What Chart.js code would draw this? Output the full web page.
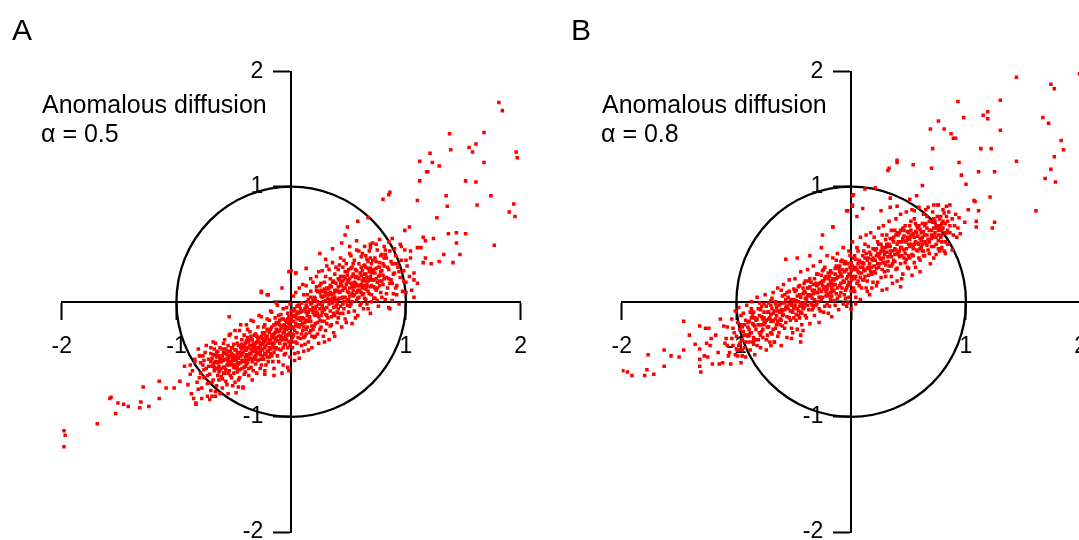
<!DOCTYPE html>
<html>
<head>
<meta charset="utf-8">
<script src="https://cdn.jsdelivr.net/npm/chart.js@4.4.1/dist/chart.umd.min.js"></script>
<style>
  html, body { margin: 0; padding: 0; background: #fff; overflow: hidden; }
  body { width: 1079px; height: 540px; position: relative; font-family: 'Liberation Sans', Arial, sans-serif; }
  canvas { position: absolute; top: 0; }
  .lbl { position: absolute; color: #000; line-height: 1; white-space: nowrap; }
  .panel { font-size: 30px; }
  .note { font-size: 25px; }
</style>
</head>
<body>
<canvas id="chartA" width="560" height="600" style="left:0px"></canvas>
<canvas id="chartB" width="560" height="600" style="left:560px"></canvas>
<div class="lbl panel" style="left:12px; top:15px">A</div>
<div class="lbl panel" style="left:571px; top:15px">B</div>
<div class="lbl note" style="left:42px; top:92px">Anomalous diffusion</div>
<div class="lbl note" style="left:41px; top:120.5px">α = 0.5</div>
<div class="lbl note" style="left:602px; top:92px">Anomalous diffusion</div>
<div class="lbl note" style="left:601px; top:120.5px">α = 0.8</div>
<script>
// axis range and the reference circle (radius in data units)
const axisMin = -2;
const axisMax = 2;
const circleRadius = 1;

// Panel A (alpha = 0.5): positions, in hundredths
const coreA = [
  [-86,-60],[-84,-52],[-82,-70],[-80,-47],[-79,-62],[-78,-75],[-77,-55],[-76,-66],[-75,-44],[-74,-58],
  [-73,-71],[-72,-50],[-71,-63],[-70,-40],[-70,-77],[-69,-56],[-68,-46],[-68,-68],[-67,-60],[-66,-52],
  [-66,-36],[-65,-73],[-64,-64],[-64,-43],[-63,-56],[-62,-49],[-62,-80],
  [-61,-58],[-60,-41],[-60,-67],[-59,-51],[-58,-33],[-58,-62],[-57,-45],[-56,-55],[-56,-72],[-55,-38],
  [-55,-49],[-54,-60],[-53,-43],[-53,-28],[-52,-52],[-52,-66],[-51,-46],[-50,-37],[-50,-57],[-49,-42],
  [-49,-70],[-48,-50],[-48,-31],[-47,-61],[-47,-45],[-46,-38],[-46,-54],[-45,-25],[-45,-66],[-44,-47],
  [-44,-40],[-43,-58],[-43,-33],[-42,-51],[-42,-44],[-41,-63],[-41,-29],[-40,-48],[-40,-36],[-40,-56],
  [-39,-42],[-39,-20],[-38,-53],[-38,-31],[-37,-46],[-37,-64],[-36,-38],[-36,-26],[-35,-49],[-35,-57],
  [-34,-33],[-34,-43],[-33,-17],[-33,-60],[-32,-39],[-32,-48],[-31,-28],[-31,-54],[-30,-35],[-30,-44],
  [-29,-22],[-29,-51],[-28,-40],[-28,-31],[-27,-58],[-27,-46],[-26,-36],[-26,-13],[-25,-42],[-25,-27],
  [-24,-50],[-24,-34],[-23,-45],[-23,-20],[-22,-38],[-22,-55],[-21,-30],[-21,-43],[-20,-25],[-20,-36],
  [-19,-48],[-19,-16],[-18,-33],[-18,-41],[-17,-22],[-17,-9],[-16,-38],[-16,-52],[-15,-28],[-15,-44],
  [-14,-14],[-14,-33],[-13,-24],[-13,-40],[-12,-47],[-12,-3],[-11,-30],[-11,-19],[-10,-36],[-10,-25],
  [-9,-42],[-9,-11],[-8,-31],[-8,-21],[-7,-55],[-7,-6],[-6,-27],[-6,-37],[-5,-16],[-5,-45],
  [-4,-24],[-4,-33],[-3,-10],[-3,-40],[-2,-19],[-2,-28],[-1,-48],[-1,-2],[0,-34],[0,-14],
  [1,-23],[1,-40],[2,5],[2,-29],[3,-13],[3,-51],[4,-35],[4,-19],[5,-4],[5,-27],
  [6,-44],[6,-10],[7,-22],[7,12],[8,-32],[8,-16],[9,-1],[9,-38],[10,-25],[10,-8],
  [11,6],[11,-43],[12,-18],[12,-30],[13,-3],[13,14],[14,-22],[14,-12],[15,-35],[15,2],
  [16,-27],[16,-7],[17,9],[17,-17],[18,-40],[18,-1],[19,-24],[19,17],[20,-11],[20,-31],
  [21,3],[21,-19],[22,-4],[22,22],[23,-28],[23,9],[24,-13],[24,-36],[25,14],[25,-2],
  [26,-22],[26,5],[27,27],[27,-9],[28,-30],[28,0],[29,-17],[29,17],[30,8],[30,-25],
  [31,-5],[31,31],[32,-14],[32,11],[33,-33],[33,2],[34,20],[34,-8],[35,-20],[35,13],
  [36,-1],[36,34],[37,-27],[37,7],[38,-12],[38,24],[39,16],[39,-4],[40,-18],[40,10],
  [41,28],[41,2],[42,-10],[42,19],[43,38],[43,9],[44,-22],[44,14],[45,4],[45,30],
  [46,-6],[46,22],[47,12],[47,-15],[48,33],[48,0],[49,17],[49,26],[50,-9],[50,8],
  [51,42],[51,20],[52,-2],[52,29],[53,13],[53,-19],[54,24],[54,5],[55,36],[55,-8],
  [56,16],[56,28],[57,1],[57,45],[58,21],[58,-12],[59,10],[59,33],[60,25],[60,-3],
  [61,15],[61,39],[62,6],[62,27],[63,-6],[63,20],[64,48],[64,32],[65,11],[65,24],
  [66,-2],[66,37],[67,18],[67,29],[68,7],[68,44],[69,22],[69,-10],[70,33],[70,14],
  [71,26],[71,51],[72,3],[72,19],[73,38],[74,10],[74,29],[75,45],[75,17],[76,-4],
  [77,23],[77,34],[78,8],[79,41],[79,27],[80,15],
  [81,31],[81,48],[82,2],[83,21],[83,38],[84,12],[85,28],[86,44],[86,-6],[87,19],
  [88,33],[89,7],[90,25],[91,40],[92,14],[93,30],[94,-2],[95,21],[96,36],[97,9],
  [98,27],[99,45],[100,17],[101,31],[103,22],[104,38],
  [-65,-58],[-63,-47],[-61,-65],[-59,-44],[-57,-59],[-55,-52],[-53,-64],[-51,-40],[-49,-55],[-47,-48],
  [-45,-59],[-43,-37],[-41,-52],[-39,-46],[-37,-35],[-35,-41],[-33,-50],[-31,-36],[-29,-45],[-27,-38],
  [-25,-32],[-23,-40],[-21,-48],[-19,-27],[-17,-36],[-15,-20],[-13,-31],[-11,-41],[-9,-23],[-7,-33],
  [-5,-30],[-3,-22],[-1,-27],[1,-12],[3,-25],[5,-15],[7,-3],[9,-20],[11,-31],[13,-9],
  [15,-17],[17,-2],[19,-9],[21,-12],[23,0],[25,-16],[27,4],[29,-7],[31,12],[33,-2],
  [35,6],[37,18],[39,1],[41,13],[43,-4],[45,18],[47,4],[49,9],[51,12],[53,22],
  [55,6],[57,15],[59,20],[61,8],[63,14],[65,30],[67,9],[69,13],[71,19],[73,25],
  [75,12],[77,30],[79,18],
  [-70,-52],[-58,-50],[-54,-47],[-50,-62],[-46,-44],[-44,-53],[-38,-40],[-34,-52],[-30,-41],[-26,-30],
  [-22,-33],[-18,-45],[-14,-27],[-10,-16],[-6,-20],[-2,-35],[2,-17],[6,-31],[10,-14],[14,-5],
  [18,-21],[22,10],[26,-12],[30,1],[34,8],[38,4],[42,3],[46,12],[50,28],[54,15],
  [58,3],[62,18],[66,21],[70,6],[74,20],
  [-90,-72],[-88,-55],[-87,-80],[-81,-41],[-80,-66],[-79,-53],[-78,-84],[-77,-47],[-76,-59],
  [-74,-38],[-73,-64],[-72,-56],[-71,-85],[-70,-45],[-69,-70],[-68,-35],[-67,-53],[-66,-78],[-65,-48],
  [-64,-58],[-63,-68],[-62,-40],[-61,-52],[-60,-75],
  [-59,-36],[-58,-57],[-57,-69],[-56,-46],[-55,-80],[-54,-29],[-53,-52],[-52,-40],[-51,-73],[-50,-48],
  [-49,-25],[-48,-58],[-47,-36],[-46,-68],[-45,-44],[-44,-20],[-43,-51],[-42,-74],[-41,-39],[-40,-61],
  [-39,-51],[-38,-24],[-37,-58],[-36,-45],[-35,-16],[-34,-68],[-33,-40],[-32,-29],[-31,-47],[-30,-62],
  [-29,-33],[-28,-12],[-27,-43],[-26,-55],[-25,-37],[-24,-22],[-23,-60],[-22,-46],[-21,-15],[-20,-52],
  [-19,-36],[-18,-8],[-17,-47],[-16,-29],[-15,-58],[-14,-41],[-13,-1],[-12,-34],[-11,-52],[-10,-20],
  [-9,-30],[-8,-62],[-7,-15],[-6,-46],[-5,-37],[-4,-5],[-3,-57],[-2,-13],[-1,-38],[0,-22],
  [1,-31],[2,-8],[3,-45],[4,8],[5,-36],[6,-20],[7,-49],[8,-6],[9,-28],[10,15],
  [11,-15],[12,-37],[13,-24],[14,6],[15,-42],[16,-14],[17,20],[18,-30],[19,-5],[20,-21],
  [21,-30],[22,13],[23,-10],[24,26],[25,-24],[26,16],[27,-17],[28,9],[29,-35],[30,22],
  [31,-12],[32,3],[33,28],[34,-21],[35,0],[36,17],[37,-5],[38,-30],[39,30],[40,-9],
  [41,-14],[42,32],[43,22],[44,3],[45,-10],[46,36],[47,26],[48,-18],[49,2],[50,19],
  [51,-4],[52,40],[53,7],[54,33],[55,17],[56,-14],[57,27],[58,10],[59,44],[60,14],
  [61,-1],[62,42],[63,31],[64,3],[65,40],[66,15],[67,-6],[68,26],[69,47],[70,0],
  [71,36],[72,28],[73,12],[74,50],[75,1],[76,30],[77,14],[78,40],[79,4],[80,33],
  [81,20],[82,41],[83,7],[84,30],[85,52],[86,16],[87,35],[88,1],[89,24],[90,46],
  [91,12],[92,33],[94,26],[96,48],[98,18],[100,36],
  [-69,-49],[-67,-57],[-65,-44],[-63,-61],[-61,-50],[-59,-57],[-57,-41],[-55,-62],[-53,-48],[-51,-55],
  [-49,-47],[-47,-53],[-45,-38],[-43,-46],[-41,-57],[-39,-34],[-37,-50],[-35,-45],[-33,-36],[-31,-42],
  [-29,-40],[-27,-31],[-25,-47],[-23,-35],[-21,-24],[-19,-40],[-17,-30],[-15,-36],[-13,-18],[-11,-26],
  [-9,-33],[-7,-27],[-5,-22],[-3,-29],[-1,-17],[1,-28],[3,-6],[5,-21],[7,-14],[9,-8],
  [11,-22],[13,-16],[15,-9],[17,-25],[19,2],[21,-6],[23,-18],[25,8],[27,-3],[29,5],
  [31,-19],[33,12],[35,-13],[37,1],[39,9],[41,-6],[43,16],[45,10],[47,20],[49,-3],
  [51,5],[53,30],[55,13],[57,22],[59,4],[61,23],[63,7],[65,18],[67,35],[69,29],
  [-68,-55],[-66,-46],[-64,-53],[-62,-59],[-60,-47],[-58,-44],[-56,-50],[-54,-55],[-52,-45],[-50,-51],
  [-48,-42],[-46,-49],[-44,-45],[-42,-38],[-40,-42],[-38,-47],[-36,-33],[-34,-38],[-32,-43],[-30,-30],
  [-28,-35],[-26,-41],[-24,-28],[-22,-30],[-20,-43],[-18,-24],[-16,-31],[-14,-20],[-12,-25],[-10,-30],
  [-8,-15],[-6,-24],[-4,-18],[-2,-23],[0,-8],[2,-22],[4,-12],[6,-3],[8,-9],[10,-19],
  [12,-6],[14,0],[16,-13],[18,-7],[20,4],[22,-9],[24,-2],[26,10],[28,-6],[30,-11],
  [32,6],[34,14],[36,3],[38,10],[40,-2],[42,8],[44,22],[46,0],[48,15],[50,2],
  [52,16],[54,10],[56,21],[58,14],[60,9],[62,12],[64,24],[66,13],[68,19],[70,25],
  [72,13],[74,35],[76,22],[78,26],[80,23],
  [-67,-41],[-63,-52],[-59,-62],[-55,-43],[-51,-50],[-47,-57],[-43,-41],[-39,-54],[-35,-30],[-31,-50],
  [-27,-50],[-23,-27],[-19,-33],[-15,-40],[-11,-12],[-7,-40],[-3,-15],[1,-35],[5,-9],[9,-14],
  [13,-28],[17,4],[21,1],[25,-6],[29,11],[33,7],[37,-10],[41,20],[45,-2],[49,23],
  [53,0],[57,8],[61,30],[65,2],[69,38],[73,3],[77,18],[81,38],[85,20],[89,33]
];
const tailA = [
  [181,173],[184,166],[138,146],[168,147],[139,132],[155,134],[158,130],[161,137],[121,129],[112,122],
  [123,121],[129,118],[118,113],[119,113],[196,130],[197,125],[168,121],[152,105],[161,104],[112,105],
  [174,92],[135,92],[194,85],[190,78],[195,74],[162,84],[136,83],[110,88],[86,95],[85,93],
  [80,89],[127,73],[177,49],[152,59],[144,60],[137,59],[124,55],[144,51],[115,56],[117,53],
  [113,47],[110,47],[103,65],[99,62],[95,50],[133,41],[147,41],[141,34],[129,35],[122,33],
  [117,38],[115,34],[104,44],[107,25],[110,16],[107,19],[105,10],[107,4],[58,70],[49,65],
  [67,73],[47,58],[44,51],[57,53],[69,50],[77,54],[88,55],[82,45],[36,46],[25,42],
  [30,37],[51,48],[13,29],[4,25],[0,27],[-26,8],[-20,6],[88,16],[92,6],[85,-5],[100,8],
  [-198,-112],[-197,-116],[-198,-126],[-169,-106],[-158,-84],[-157,-83],[-153,-97],[-151,-88],[-146,-89],[-142,-91],
  [-132,-92],[-131,-87],[-124,-91],[-129,-74],[-115,-84],[-115,-69],[-109,-75],[-102,-75],[-97,-69],[-93,-56],
  [-88,-63],[-84,-50],[-83,-88],[-83,-89],[-85,-84],[-81,-76],[-76,-51],[-73,-82],[-69,-82],[-66,-82],
  [-54,-13],[-48,-79],[-46,-74],[-42,-75],[-26,9],[-21,6],[-15,-64],[-2,-60],[-23,-63],[-8,12],
  [-2,26],[4,25]
];

// Panel B (alpha = 0.8)
const coreB = [
  [-100,-30],[-99,-18],[-98,-38],[-97,-24],[-96,-12],[-95,-33],[-94,-26],[-93,-40],[-92,-16],[-91,-29],
  [-90,-22],[-89,-35],[-88,-9],[-87,-27],[-86,-19],[-85,-31],[-84,-14],[-83,-24],[-82,-38],[-81,-6],[-80,-20],
  [-79,-29],[-78,-13],[-77,-24],[-76,-2],[-75,-18],[-74,-33],[-73,-9],[-72,-22],[-71,-14],[-70,-27],
  [-69,3],[-68,-17],[-67,-8],[-66,-23],[-65,-12],[-64,-30],[-63,-3],[-62,-15],[-61,-7],[-60,-21],[-60,5],
  [-59,-11],[-58,-1],[-57,-18],[-56,8],[-55,-6],[-54,-14],[-53,2],[-52,-23],[-51,-9],[-50,11],
  [-49,-3],[-48,-16],[-47,5],[-46,-8],[-45,14],[-44,-1],[-43,-20],[-42,7],[-41,-5],[-40,-12],[-40,18],
  [-39,1],[-38,12],[-37,-7],[-36,20],[-35,5],[-34,-3],[-33,15],[-32,-12],[-31,8],[-30,24],
  [-29,0],[-28,11],[-27,-8],[-26,17],[-25,4],[-24,28],[-23,-4],[-22,13],[-21,7],[-20,-10],[-20,20],
  [-19,14],[-18,2],[-17,25],[-16,9],[-15,19],[-14,-3],[-13,31],[-12,12],[-11,22],[-10,5],
  [-9,16],[-8,36],[-7,-2],[-6,26],[-5,10],[-4,20],[-3,33],[-2,4],[-1,15],[0,27],[0,-6],
  [1,21],[2,38],[3,9],[4,30],[5,16],[6,44],[7,25],[8,2],[9,34],[10,19],
  [11,28],[12,50],[13,12],[14,36],[15,23],[16,6],[17,41],[18,30],[19,17],[20,46],[20,26],
  [21,36],[22,14],[23,52],[24,30],[25,42],[26,21],[27,58],[28,34],[29,26],[30,47],
  [31,11],[32,39],[33,31],[34,55],[35,22],[36,44],[37,36],[38,62],[39,28],[40,50],[40,18],
  [41,41],[42,60],[43,33],[44,52],[45,24],[46,45],[47,66],[48,37],[49,56],[50,29],
  [51,48],[52,70],[53,41],[54,59],[55,34],[56,52],[57,45],[58,64],[59,38],[60,55],[60,26],
  [61,47],[62,68],[63,40],[64,58],[65,51],[66,74],[67,45],[68,62],[69,33],[70,55],
  [71,69],[72,48],[73,60],[74,41],[75,66],[76,53],[77,72],[78,46],[79,58],[80,64],
  [82,52],[84,70],[86,60],[88,45],[90,66],[92,56],[94,73],
  [-95,-22],[-90,-30],[-85,-20],[-80,-27],[-76,-14],[-72,-9],[-68,-24],[-64,-8],[-60,-12],[-56,-4],
  [-52,-8],[-48,1],[-44,-9],[-40,-2],[-36,6],[-32,2],[-28,16],[-24,11],[-20,5],[-16,20],
  [-12,3],[-8,22],[-4,12],[0,19],[4,22],[8,30],[12,27],[16,33],[20,36],[24,40],
  [28,44],[32,48],[36,33],[40,42],[44,47],[48,53],[52,50],[56,61],[60,46],[64,66],
  [68,52],[72,58],[76,62],
  [-93,-29],[-87,-14],[-83,-33],[-78,-20],[-74,-16],[-70,-11],[-66,-15],[-62,-20],[-58,-7],[-54,-2],
  [-50,-14],[-46,0],[-42,-6],[-38,5],[-34,10],[-30,-2],[-26,9],[-22,22],[-18,8],[-14,15],
  [-10,26],[-6,17],[-2,24],[2,12],[6,33],[10,40],[14,18],[18,24],[22,29],[26,37],
  [30,32],[34,41],[38,46],[42,39],[46,57],[50,40],[54,46],[58,51],[62,56],[66,49],
  [70,62],[74,50],[78,66],
  [-110,-36],[-108,-22],[-106,-44],[-104,-15],[-103,-38],[-102,-27],[-101,-8],[-99,-47],[-98,-5],[-97,-36],
  [-96,-20],[-95,-42],[-94,-10],[-92,-48],[-91,-3],
  [-89,-17],[-88,-42],[-87,0],[-86,-35],[-85,-9],[-84,-46],[-83,-16],[-82,4],[-81,-33],[-80,-12],
  [-79,-40],[-78,-4],[-77,-31],[-76,-18],[-75,6],[-74,-42],[-73,-22],[-72,-1],[-71,-35],[-70,-17],
  [-69,-28],[-68,8],[-67,-35],[-66,-2],[-65,-20],[-64,12],[-63,-27],[-62,-9],[-61,-38],[-60,-1],
  [-59,15],[-58,-23],[-57,-5],[-56,-31],[-55,4],[-54,19],[-53,-16],[-52,-3],[-51,-27],[-50,2],
  [-49,20],[-48,-11],[-47,-24],[-46,13],[-45,-4],[-44,26],[-43,-10],[-42,-25],[-41,16],[-40,3],
  [-39,-14],[-38,28],[-37,6],[-36,-19],[-35,17],[-34,-7],[-33,31],[-32,10],[-31,-3],[-30,14],
  [-29,24],[-28,-6],[-27,35],[-26,2],[-25,18],[-24,-9],[-23,30],[-22,5],[-21,40],[-20,15],
  [-19,-4],[-18,27],[-17,11],[-16,38],[-15,1],[-14,24],[-13,7],[-12,42],[-11,-7],[-10,31],
  [-9,8],[-8,28],[-7,47],[-6,6],[-5,35],[-4,-4],[-3,22],[-2,44],[-1,30],[0,9],
  [1,52],[2,28],[3,40],[4,4],[5,47],[6,18],[7,36],[8,56],[9,12],[10,30],
  [11,44],[12,22],[13,58],[14,9],[15,48],[16,29],[17,60],[18,12],[19,38],[20,56],
  [21,25],[22,46],[23,17],[24,64],[25,33],[26,50],[27,10],[28,66],[29,41],[30,22],
  [31,58],[32,27],[33,70],[34,44],[35,62],[36,16],[37,52],[38,35],[39,72],[40,29],
  [41,58],[42,44],[43,76],[44,20],[45,64],[46,38],[47,52],[48,78],[49,30],[50,60],
  [51,38],[52,62],[53,80],[54,48],[55,72],[56,30],[57,66],[58,44],[59,82],[60,36],
  [61,60],[62,50],[63,76],[64,40],[65,68],[66,58],[67,82],[68,42],[69,70],[70,48],
  [71,78],[72,38],[73,70],[74,56],[75,84],[76,46],[77,64],[78,74],[79,52],[80,80],
  [81,44],[82,68],[83,60],[84,50],[85,78],[86,66],[88,72],[89,58],[91,76],[93,64],
  [-49,0],[-47,-6],[-45,6],[-43,-3],[-41,9],[-39,3],[-37,12],[-35,-1],[-33,7],[-31,16],
  [-29,8],[-27,4],[-25,14],[-23,20],[-21,11],[-19,22],[-17,16],[-15,10],[-13,20],[-11,29],
  [-9,24],[-7,18],[-5,27],[-3,14],[-1,23],[1,31],[3,20],[5,28],[7,35],[9,25],
  [11,33],[13,42],[15,30],[17,26],[19,36],[21,45],[23,33],[25,38],[27,47],[29,34],
  [31,43],[33,50],[35,39],[37,56],[39,45],[41,52],[43,47],[45,55],[47,42],[49,61],
  [51,54],[53,58],[55,50],[57,60],[59,66],
  [-90,-18],[-88,-27],[-86,-12],[-84,-21],[-82,-15],[-80,-6],[-78,-26],[-76,-9],[-74,-4],[-72,-15],
  [-70,-3],[-68,-10],[-66,0],[-64,-17],[-62,-2],[-60,-8],[-58,6],[-56,-13],[-54,9],[-52,-2],
  [-50,-6],[-48,10],[-46,-12],[-44,4],[-42,12],[-40,8],[-38,-3],[-36,13],[-34,3],[-32,20],
  [-30,8],[-28,4],[-26,23],[-24,18],[-22,9],[-20,25],[-18,18],[-16,14],[-14,29],[-12,21],
  [-10,14],[-8,12],[-6,33],[-4,28],[-2,17],[0,34],[2,22],[4,37],[6,26],[8,21],
  [10,34],[12,38],[14,29],[16,43],[18,37],[20,31],[22,40],[24,50],[26,44],[28,38],
  [30,54],[32,35],[34,48],[36,54],[38,41],[40,60],[42,52],[44,40],[46,62],[48,46],
  [50,50],[52,57],[54,40],[56,68],[58,57],[60,63],[62,44],[64,52],[66,64],[68,70],
  [70,58],[72,64],[74,66],[76,58],[78,56],[80,70],[82,60],[84,62],
  [-89,-24],[-85,-37],[-81,-20],[-77,-15],[-73,-29],[-69,-16],[-65,-5],[-61,-16],[-57,2],[-53,-8],
  [-49,9],[-45,-14],[-41,-1],[-37,18],[-33,-5],[-29,15],[-25,27],[-21,-2],[-17,5],[-13,36],
  [-9,35],[-5,3],[-1,40],[3,29],[7,14],[11,19],[15,38],[19,46],[23,42],[27,28],
  [31,50],[35,31],[39,58],[43,62],[47,34],[51,66],[55,56],[59,50],[63,61],[67,54],
  [71,56],[75,74],[79,68],[83,74]
];
const tailB = [
  [-199,-60],[-195,-61],[-191,-64],[-180,-64],[-178,-59],[-172,-63],[-177,-46],[-163,-42],[-163,-56],[-157,-47],
  [-150,-48],[-146,-42],[-146,-17],[-141,-29],[-136,-37],[-132,-21],[-132,-50],[-132,-56],[-131,-61],[-132,-41],
  [-127,-23],[-124,-23],[-128,-47],[-125,-48],[-126,-36],[-122,-32],[-123,-38],[-121,-54],[-116,-44],[-118,-29],
  [-114,-15],[-111,-21],[-112,-53],[-115,-54],[-108,-38],[-109,-32],[-107,-47],[-105,-54],[-104,-32],[-103,-23],
  [-100,-41],[-101,-46],[-98,-42],[-96,-53],[-95,-47],[-92,-35],[-93,-20],[-89,-29],[-87,-6],[-85,-34],
  [-80,-1],[-79,-7],[-76,-20],[-70,1],[-69,-6],[-61,10],[-57,37],[-47,38],[-36,40],[-26,47],
  [-25,58],[-16,65],[-4,79],[1,92],[1,84],[5,74],[-3,-1],[0,-6],[4,-2],[-17,-13],
  [-28,-18],[-44,-29],[-44,-35],[-52,-32],[-67,-35],[-70,-38],
  [144,195],[199,198],[174,189],[177,185],[130,175],[93,174],[115,162],[119,165],[119,159],[98,160],
  [167,160],[172,155],[130,149],[76,157],[69,150],[81,150],[87,146],[89,142],[91,142],[183,140],
  [185,132],[113,133],[122,133],[71,133],[177,126],[40,123],[40,121],[144,122],[94,121],[54,119],
  [33,116],[32,114],[70,116],[111,113],[125,113],[174,115],[96,110],[169,107],[178,104],[100,102],
  [62,101],[21,99],[12,98],[57,92],[121,91],[107,88],[108,87],[51,89],[34,90],[2,93],
  [161,79],[111,79],[102,80],[86,84],[83,83],[76,84],[72,84],[65,80],[81,77],[55,79],
  [99,69],[109,70],[125,69],[123,64],[109,65],[95,59],[72,72],[74,64],[79,62],[77,44],
  [82,42],[79,47],[43,13],[53,23],[63,44],[61,53],[34,82],[40,83],[26,79],[10,81],
  [-3,79],[-16,65],[1,83]
];

const toXY = list => list.map(p => ({ x: p[0] / 100, y: p[1] / 100 }));

// unit circle, placed with the chart's own scales
const circlePlugin = {
  id: 'unitCircle',
  beforeDatasetsDraw(chart) {
    const { ctx, scales: { x, y } } = chart;
    const cx = x.getPixelForValue(0);
    const cy = y.getPixelForValue(0);
    const rx = x.getPixelForValue(circleRadius) - cx;
    const ry = cy - y.getPixelForValue(circleRadius);
    ctx.save();
    ctx.beginPath();
    ctx.ellipse(cx, cy, rx, ry, 0, 0, Math.PI * 2);
    ctx.lineWidth = 2.3;
    ctx.strokeStyle = '#000';
    ctx.stroke();
    ctx.restore();
  }
};

// a y axis placed at x = 0 puts its labels right on the axis line,
// so move them left past the tick marks
const yLabelShift = 28;
const shiftYLabels = {
  id: 'shiftYLabels',
  beforeDraw(chart) {
    const items = chart.scales.y.getLabelItems(chart.chartArea);
    if (items._shifted) return;
    items.forEach(it => { it.options.translation[0] -= yLabelShift; });
    items._shifted = true;
  }
};

function axis(pos) {
  return {
    type: 'linear',
    min: axisMin,
    max: axisMax,
    position: pos,
    border: { display: true, color: '#000', width: 2 },
    grid: { drawOnChartArea: false, drawTicks: true, tickLength: 17, tickWidth: 2, tickColor: '#000' },
    ticks: {
      stepSize: 1,
      autoSkip: false,
      maxRotation: 0,
      padding: 14,
      color: '#000',
      font: { family: 'Liberation Sans', size: 23 },
      callback: v => (v === 0 ? '' : String(v))
    }
  };
}

function makeChart(id, core, tail) {
  return new Chart(document.getElementById(id), {
    type: 'scatter',
    data: {
      datasets: [{
        data: toXY(core.concat(tail)),
        pointStyle: 'rect',
        pointRadius: 2.5,
        borderWidth: 0,
        backgroundColor: '#ff0000'
      }]
    },
    options: {
      responsive: false,
      animation: false,
      events: [],
      layout: { padding: { left: 61.7, top: 71.5, right: 39.3, bottom: 68 } },
      plugins: { legend: { display: false }, tooltip: { enabled: false } },
      scales: {
        x: axis({ y: 0 }),
        y: axis({ x: 0 })
      }
    },
    plugins: [circlePlugin, shiftYLabels]
  });
}

makeChart('chartA', coreA, tailA);
makeChart('chartB', coreB, tailB);
</script>
</body>
</html>
